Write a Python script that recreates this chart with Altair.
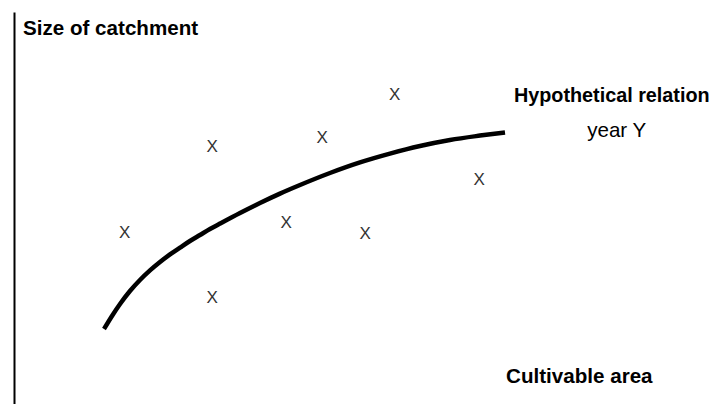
import altair as alt
import pandas as pd

# Observed points (cultivable area, size of catchment), arbitrary units
obs_x = [15.7, 28.1, 28.1, 38.6, 43.7, 49.8, 54.0, 66.0]
obs_y = [44.75, 66.25, 28.5, 47.25, 68.5, 44.5, 79.25, 58.0]

# Hypothetical relation curve for year Y
curve_x = [12.77, 13.90, 15.04, 16.45, 17.87, 19.29, 20.71, 22.13, 23.55, 24.96, 26.38,
           27.80, 29.22, 32.06, 34.89, 37.73, 40.57, 44.82, 49.08, 53.33, 57.59,
           61.84, 66.10, 69.65]
curve_y = [20.75, 24.0, 27.0, 30.25, 33.0, 35.4, 37.5, 39.4, 41.1, 42.75, 44.25,
           45.75, 47.1, 49.75, 52.25, 54.6, 56.75, 59.75, 62.4, 64.6, 66.5,
           68.0, 69.1, 69.9]

# Annotation labels
label_text = ["Size of catchment", "Hypothetical relation", "year Y", "Cultivable area"]
label_x = [1.28, 70.92, 81.3, 69.8]
label_y = [94.25, 77.6, 68.8, 7.25]
label_size = [20.6, 19.8, 20.6, 20.6]
label_weight = ["bold", "bold", "normal", "bold"]

FONT = "Liberation Sans"

obs = pd.DataFrame({"x": obs_x, "y": obs_y, "m": ["X"] * len(obs_x)})
curve = pd.DataFrame({"x": curve_x, "y": curve_y, "o": list(range(len(curve_x)))})
labels = pd.DataFrame({"t": label_text, "x": label_x, "y": label_y,
                       "s": label_size, "w": label_weight})

xs = alt.Scale(domain=[0, 98.87], nice=False, zero=False)
ys = alt.Scale(domain=[2, 100], nice=False, zero=False)

X = alt.X("x:Q", scale=xs, axis=None)
Y = alt.Y("y:Q", scale=ys, axis=alt.Axis(domain=True, domainColor="black", domainWidth=2,
                                           ticks=False, labels=False, grid=False, title=None))

line = alt.Chart(curve).mark_line(color="black", strokeWidth=4.5, strokeCap="butt",
                                  interpolate="monotone").encode(x=X, y=Y, order="o:Q")

pts = alt.Chart(obs).mark_text(font=FONT, fontSize=17, color="#333333",
                               baseline="middle", align="center").encode(x=X, y=Y, text="m:N")

lab_bold = alt.Chart(labels[labels.w == "bold"]).mark_text(
    font=FONT, fontWeight="bold", color="black", align="left", baseline="alphabetic"
).encode(x=X, y=Y, text="t:N", size=alt.Size("s:Q", scale=None, legend=None))
lab_norm = alt.Chart(labels[labels.w == "normal"]).mark_text(
    font=FONT, color="black", align="left", baseline="alphabetic"
).encode(x=X, y=Y, text="t:N", size=alt.Size("s:Q", scale=None, legend=None))

chart = alt.layer(line, pts, lab_bold, lab_norm).properties(
    width=697, height=392,
    padding={"left": 6, "top": 4, "right": 0, "bottom": 0},
    autosize=alt.AutoSizeParams(type="none"),
    background="white",
).configure_view(stroke=None)

chart.save("out.html", embed_options={"renderer": "svg", "actions": False})
